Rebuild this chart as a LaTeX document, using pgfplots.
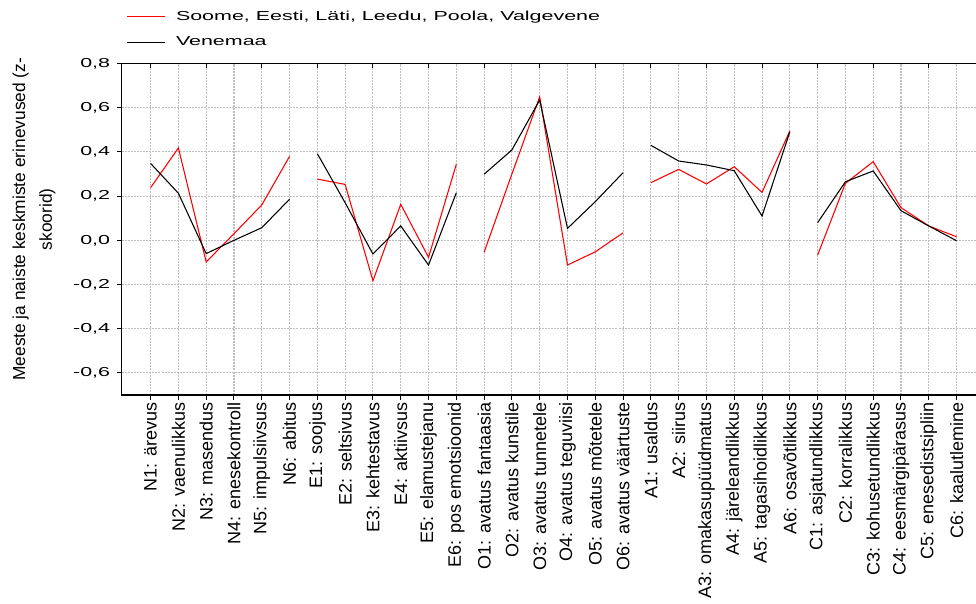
\documentclass[border=0pt]{standalone}
\usepackage{pgfplots}
\pgfplotsset{compat=1.18}
\usepackage{pgfplotstable}
\usepackage{fontspec}
\setmainfont{Liberation Sans}
\newfontfamily\widefont[FakeStretch=1.65]{Liberation Sans}
\pgfplotsset{legend image code/.code={\draw[#1] (0pt,0pt) -- (29pt,0pt);}}

\pgfplotstableread{
x red black
0 0.238 0.348
1 0.418 0.213
2 -0.098 -0.060
3 0.030 0.000
4 0.160 0.057
5 0.380 0.186
5.5 nan nan
6 0.277 0.392
7 0.253 0.170
8 -0.183 -0.062
9 0.163 0.065
10 -0.077 -0.112
11 0.344 0.215
11.5 nan nan
12 -0.054 0.299
13 0.300 0.409
14 0.650 0.635
15 -0.112 0.054
16 -0.052 0.175
17 0.034 0.306
17.5 nan nan
18 0.261 0.430
19 0.321 0.359
20 0.255 0.341
21 0.333 0.315
22 0.217 0.110
23 0.495 0.491
23.5 nan nan
24 -0.067 0.080
25 0.258 0.265
26 0.356 0.314
27 0.148 0.134
28 0.065 0.065
29 0.016 -0.002
}\data

\begin{document}
\begin{tikzpicture}
\begin{axis}[
  at={(91.275pt,156.75pt)}, anchor=south west,
  scale only axis, width=647pt, height=248.6pt,
  xmin=-1.04, xmax=30, ymin=-0.7, ymax=0.8,
  unbounded coords=jump,
  axis line style={black, line width=0.9pt},
  xtick={0,...,29},
  xticklabels={N1: ärevus, N2: vaenulikkus, N3: masendus, N4: enesekontroll, N5: impulsiivsus, N6: abitus, E1: soojus, E2: seltsivus, E3: kehtestavus, E4: aktiivsus, E5: elamustejanu, E6: pos emotsioonid, O1: avatus fantaasia, O2: avatus kunstile, O3: avatus tunnetele, O4: avatus teguviisi, O5: avatus mõtetele, O6: avatus väärtuste, A1: usaldus, A2: siirus, A3: omakasupüüdmatus, A4: järeleandlikkus, A5: tagasihoidlikkus, A6: osavõtlikkus, C1: asjatundlikkus, C2: korralikkus, C3: kohusetundlikkus, C4: eesmärgipärasus, C5: enesedistsipliin, C6: kaalutlemine},
  ytick={-0.6,-0.4,-0.2,0,0.2,0.4,0.6,0.8},
  xtick pos=bottom, ytick pos=left,
  tick align=outside,
  major tick length=3.5pt,
  tick style={black, line width=0.75pt},
  xticklabel style={rotate=90, anchor=east, inner sep=2pt, font=\fontsize{13.5}{16}\selectfont},
  yticklabel style={font=\widefont\fontsize{9.75}{11}\selectfont, inner sep=0pt, xshift=-5pt,
    /pgf/number format/.cd, fixed, fixed zerofill, precision=1, use comma, assume math mode=true},
  grid=major,
  major grid style={gray!50, line width=0.8pt, dash pattern=on 1.5pt off 0.8pt},
  ylabel={Meeste ja naiste keskmiste erinevused (z-\\[5pt]skoorid)},
  every axis y label/.style={at={(axis description cs:-0.1017,0.53)}, rotate=90, anchor=center,
    align=center, font=\fontsize{13}{15}\selectfont},
  legend style={at={(axis description cs:0.005,1.163)}, anchor=north west, draw=none, fill=none,
    inner sep=0pt, row sep=8.75pt, font=\widefont\fontsize{9.75}{11}\selectfont,
    nodes={inner sep=1pt},
    /tikz/every odd column/.append style={column sep=6.5pt}},
  legend cell align=left,
]
\addplot[red, line width=0.8pt] table[x=x, y=red]{\data};
\addlegendentry{Soome, Eesti, Läti, Leedu, Poola, Valgevene}
\addplot[black, line width=0.8pt] table[x=x, y=black]{\data};
\addlegendentry{Venemaa}
\end{axis}
\begin{axis}[
  at={(91.275pt,156.75pt)}, anchor=south west,
  scale only axis, width=647pt, height=248.6pt,
  xmin=-1.04, xmax=30, ymin=-0.7, ymax=0.8,
  axis line style={draw=none},
  xtick={0,2,...,28}, xticklabels={}, ytick=\empty,
  xtick pos=top, tick align=inside, major tick length=3.5pt,
  tick style={black, line width=0.75pt},
]
\end{axis}
\pgfresetboundingbox
\useasboundingbox (0,0) rectangle (732pt,453pt);
\end{tikzpicture}
\end{document}
